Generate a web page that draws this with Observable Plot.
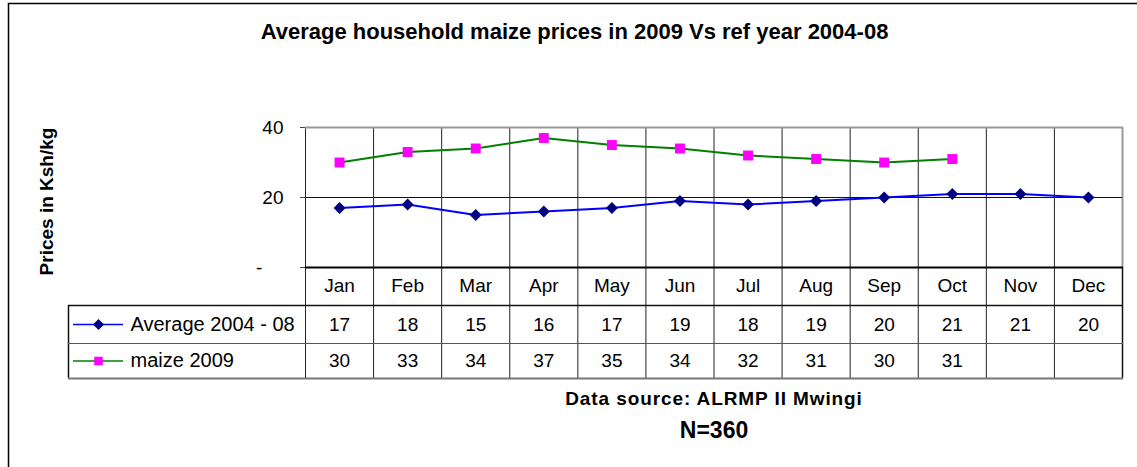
<!DOCTYPE html>
<html><head><meta charset="utf-8">
<script src="https://cdn.jsdelivr.net/npm/d3@7"></script>
<script src="https://cdn.jsdelivr.net/npm/@observablehq/plot@0.6"></script>
<style>html,body{margin:0;padding:0;background:#fff;overflow:hidden}</style>
</head><body><div id="chart"></div>
<script>
// ---- data ----
const months = ["Jan","Feb","Mar","Apr","May","Jun","Jul","Aug","Sep","Oct","Nov","Dec"];
const avg2004_08 = [17,18,15,16,17,19,18,19,20,21,21,20];
const maize2009 = [30,33,34,37,35,34,32,31,30,31];
const seriesNames = ["Average 2004 - 08", "maize 2009"];
const yTicks = [0, 20, 40];
const titleText = "Average household maize prices in 2009 Vs ref year 2004-08";
const yLabelText = "Prices in Ksh/kg";
const sourceText = "Data source: ALRMP II Mwingi";
const sampleText = "N=360";

// ---- tables built from the arrays ----
const avgRows = months.map((m, i) => ({i, month: m, value: avg2004_08[i]}));
const maizeRows = maize2009.map((v, i) => ({i, month: months[i], value: v}));
const col = d => d.i + 0.5;
const bounds = d3.range(0, months.length + 1);

// ---- layout (px offsets below the x axis) ----
const rowMonth = 18, row1 = 57, row2 = 93.5;
const line1 = 38, line2 = 76, line3 = 111;
const legendLeft = -237;
const font = "Liberation Sans, Arial, Helvetica, sans-serif";

const BLUE = "#0000FF", NAVY = "#000080", GREEN = "#008000", MAGENTA = "#FF00FF";

const chart = Plot.plot({
  width: 1137,
  height: 467,
  marginLeft: 305,
  marginRight: 15,
  marginTop: 127,
  marginBottom: 200,
  style: {fontFamily: font, fontSize: "19px", color: "black", background: "white", overflow: "visible"},
  x: {domain: [0, months.length], axis: null},
  y: {domain: [0, 40], axis: null},
  marks: [
    // outer chart border
    Plot.frame({stroke: "black", strokeWidth: 1.5, insetLeft: -297, insetTop: -124, insetRight: -40, insetBottom: -220}),
    // vertical grid / table column lines
    Plot.ruleX(bounds.slice(0, -1), {stroke: "#222", strokeWidth: 1, insetBottom: -line3}),
    Plot.ruleX([months.length], {stroke: "#999", strokeWidth: 2}),
    Plot.ruleX([months.length], {stroke: "#111", strokeWidth: 1.5, insetTop: 140, insetBottom: -line3}),
    Plot.ruleX([0], {stroke: "#111", strokeWidth: 1.5, dx: legendLeft, insetTop: 140 + line1, insetBottom: -line3}),
    // horizontal grid
    Plot.ruleY([20], {stroke: "#111", strokeWidth: 1}),
    Plot.ruleY([40], {stroke: "#999", strokeWidth: 2, insetRight: -1}),
    // table rows
    Plot.ruleY([0], {stroke: "#111", strokeWidth: 1.5, dy: line1, insetLeft: legendLeft, insetRight: -1}),
    Plot.ruleY([0], {stroke: "#555", strokeWidth: 1.2, dy: line2, insetLeft: legendLeft, insetRight: -1}),
    Plot.ruleY([0], {stroke: "#777", strokeWidth: 2, dy: line3, insetLeft: legendLeft, insetRight: -1}),
    // x axis line
    Plot.ruleY([0], {stroke: "#000", strokeWidth: 2, insetRight: -1}),
    // y axis
    Plot.axisY({ticks: yTicks, tickSize: 5, tickPadding: 17, stroke: "#444",
      tickFormat: d => d === 0 ? "-\u00a0\u00a0\u00a0\u00a0" : String(d), label: null}),
    Plot.text([yLabelText], {frameAnchor: "left", textAnchor: "middle", lineAnchor: "middle", dx: -259, dy: 4, rotate: -90, fontWeight: "bold", fontSize: 19}),
    // series
    Plot.line(avgRows, {x: col, y: "value", stroke: BLUE, strokeWidth: 2}),
    Plot.dot(avgRows, {x: col, y: "value", symbol: "diamond2", r: 5.4, fill: NAVY}),
    Plot.line(maizeRows, {x: col, y: "value", stroke: GREEN, strokeWidth: 2}),
    Plot.dot(maizeRows, {x: col, y: "value", symbol: "square", r: 5.6, fill: MAGENTA}),
    // data table
    Plot.text(avgRows, {x: col, text: "month", frameAnchor: "bottom", lineAnchor: "middle", dy: rowMonth}),
    Plot.text(avgRows, {x: col, text: d => String(d.value), frameAnchor: "bottom", lineAnchor: "middle", dy: row1}),
    Plot.text(maizeRows, {x: col, text: d => String(d.value), frameAnchor: "bottom", lineAnchor: "middle", dy: row2}),
    // legend keys in the table
    Plot.ruleY([0], {x1: () => 0, x2: () => 0, dy: row1, insetLeft: -232, insetRight: 182, stroke: BLUE, strokeWidth: 1.5}),
    Plot.dot([0], {x: () => 0, y: () => 0, dx: -207, dy: row1, symbol: "diamond2", r: 5, fill: NAVY}),
    Plot.text([seriesNames[0]], {x: () => 0, y: () => 0, dx: -175, dy: row1, textAnchor: "start", text: d => d, fontSize: 20}),
    Plot.ruleY([0], {x1: () => 0, x2: () => 0, dy: row2, insetLeft: -232, insetRight: 182, stroke: GREEN, strokeWidth: 1.5}),
    Plot.dot([0], {x: () => 0, y: () => 0, dx: -207, dy: row2, symbol: "square", r: 4.8, fill: MAGENTA}),
    Plot.text([seriesNames[1]], {x: () => 0, y: () => 0, dx: -175, dy: row2, textAnchor: "start", text: d => d, fontSize: 20}),
    // titles
    Plot.text([titleText], {frameAnchor: "top", lineAnchor: "middle", dx: -139.5, dy: -96, fontWeight: "bold", fontSize: 22}),
    Plot.text([sourceText], {frameAnchor: "bottom", lineAnchor: "middle", dy: 131, fontWeight: "bold", fontSize: 19}),
    Plot.text([sampleText], {frameAnchor: "bottom", lineAnchor: "middle", dy: 163, fontWeight: "bold", fontSize: 23})
  ]
});
d3.select(chart).selectAll("text")
  .filter(function () { return this.textContent === sourceText; })
  .attr("letter-spacing", "0.9px");
document.getElementById("chart").appendChild(chart);
</script>
</body></html>
